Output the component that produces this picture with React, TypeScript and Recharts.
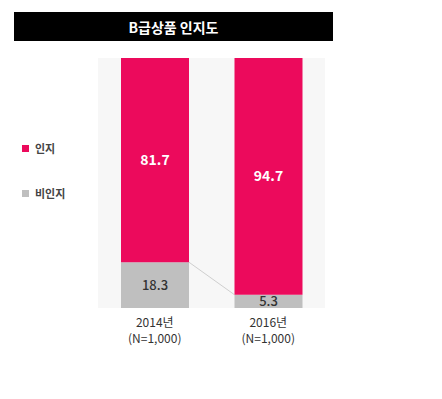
import React from "react";
import {
  BarChart,
  Bar,
  XAxis,
  YAxis,
  CartesianGrid,
  LabelList,
} from "recharts";

const years = ["2014년", "2016년"];
const sampleSizes = ["(N=1,000)", "(N=1,000)"];
const aware = [81.7, 94.7];
const unaware = [18.3, 5.3];

const PINK = "#EC0A5C";
const GREY = "#BFBFBF";
const FONT = "'Noto Sans CJK KR', 'Noto Sans', sans-serif";

const CHART_W = 442;
const CHART_H = 399;
const MARGIN = { top: 58, right: 117, bottom: 61, left: 98 };
const PLOT_W = CHART_W - MARGIN.left - MARGIN.right;

const data = years.map((year, i) => ({
  year,
  n: sampleSizes[i],
  aware: aware[i],
  unaware: unaware[i],
}));

// grey segment + thin connector to the next bar's grey top
function UnawareShape(props: any) {
  const { x, y, width, height, index } = props;
  let connector = null;
  if (index < unaware.length - 1 && unaware[index] > 0) {
    const step = PLOT_W / years.length;
    const nextTop = y + height - (height * unaware[index + 1]) / unaware[index];
    connector = (
      <line
        x1={x + width}
        y1={y}
        x2={x + step}
        y2={nextTop}
        stroke="#cfcfcf"
        strokeWidth={1}
      />
    );
  }
  return (
    <g>
      <rect x={x} y={y} width={width} height={height} fill={GREY} />
      {connector}
    </g>
  );
}

function YearTick(props: any) {
  const { x, y, payload, index } = props;
  return (
    <text
      x={x}
      y={y}
      textAnchor="middle"
      fill="#333"
      fontSize={12}
      fontFamily={FONT}
    >
      <tspan x={x} dy={11}>
        {payload.value}
      </tspan>
      <tspan x={x} dy={16}>
        {sampleSizes[index] ?? ""}
      </tspan>
    </text>
  );
}

function LegendItem({ color, label, top }: { color: string; label: string; top: number }) {
  return (
    <div
      style={{
        position: "absolute",
        left: 22,
        top,
        display: "flex",
        alignItems: "center",
        fontFamily: FONT,
        fontSize: 11,
        fontWeight: 700,
        color: "#444",
      }}
    >
      <span
        style={{
          width: 7,
          height: 7,
          background: color,
          display: "inline-block",
          marginRight: 6,
        }}
      />
      {label}
    </div>
  );
}

export default function App() {
  return (
    <div
      style={{
        position: "absolute",
        left: 0,
        top: 0,
        width: CHART_W,
        height: CHART_H,
        background: "#fff",
      }}
    >
      <div
        style={{
          position: "absolute",
          left: 14,
          top: 12,
          width: 319,
          height: 29,
          background: "#000",
          color: "#fff",
          fontFamily: FONT,
          fontWeight: 700,
          fontSize: 14,
          display: "flex",
          alignItems: "center",
          justifyContent: "center",
        }}
      >
        B급상품 인지도
      </div>

      <LegendItem color={PINK} label="인지" top={140} />
      <LegendItem color={GREY} label="비인지" top={185} />

      <div style={{ position: "absolute", left: 0, top: 0 }}>
        <BarChart width={CHART_W} height={CHART_H} data={data} margin={MARGIN}>
          <CartesianGrid
            horizontal={false}
            vertical={false}
            fill="#f7f7f7"
          />
          <XAxis
            dataKey="year"
            axisLine={false}
            tickLine={false}
            tick={<YearTick />}
            interval={0}
          />
          <YAxis hide domain={[0, 100]} />
          <Bar
            dataKey="unaware"
            stackId="a"
            barSize={68}
            fill={GREY}
            shape={<UnawareShape />}
            isAnimationActive={false}
          >
            <LabelList
              dataKey="unaware"
              position="center"
              fill="#333"
              fontSize={13}
              fontWeight={500}
              fontFamily={FONT}
            />
          </Bar>
          <Bar
            dataKey="aware"
            stackId="a"
            barSize={68}
            fill={PINK}
            isAnimationActive={false}
          >
            <LabelList
              dataKey="aware"
              position="center"
              fill="#fff"
              fontSize={14}
              fontWeight={700}
              fontFamily={FONT}
            />
          </Bar>
        </BarChart>
      </div>
    </div>
  );
}
